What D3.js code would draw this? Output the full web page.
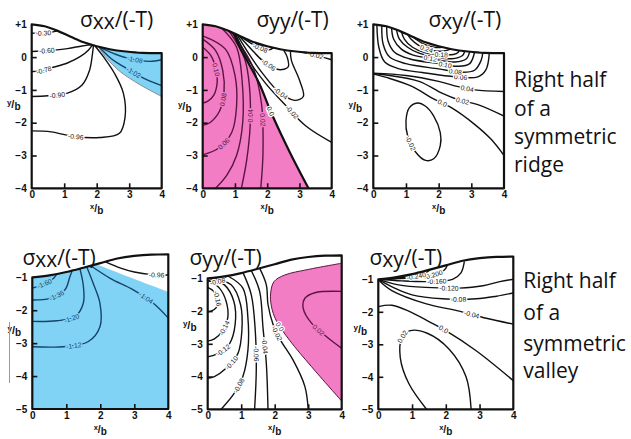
<!DOCTYPE html>
<html><head><meta charset="utf-8">
<script src="https://cdn.jsdelivr.net/npm/d3@7"></script>
<style>html,body{margin:0;padding:0;background:#fff;}svg{display:block;}</style>
</head><body>
<svg id="chart" width="631" height="439"></svg>
<script>
// ---------------- data (x/b , y/b) ----------------
const xTickVals = [0, 1, 2, 3, 4];
const ridgeYTicks = [1, 0, -1, -2, -3, -4];
const valleyYTicks = [-1, -2, -3, -4, -5];
const titles = ["σxx/(-T)", "σyy/(-T)", "σxy/(-T)", "σxx/(-T)", "σyy/(-T)", "σxy/(-T)"];
const ridgeText = ["Right half", "of a", "symmetric", "ridge"];
const valleyText = ["Right half", "of a", "symmetric", "valley"];

const ridgeTop = [[0,1],[0.4,0.94],[0.8,0.8],[1.2,0.62],[1.6,0.45],[2.0,0.33],[2.4,0.24],[2.9,0.17],[3.4,0.13],[4,0.12]];
const valleyTop = [[0,-1],[0.5,-0.94],[1,-0.84],[1.5,-0.71],[2,-0.57],[2.5,-0.43],[3,-0.35],[3.5,-0.31],[4,-0.3]];

// panel 1 : sigma_xx ridge
const p1Edge = [[2.05,0.31],[2.3,-0.03],[2.72,-0.44],[3.33,-0.84],[4,-1.2]];
const p1c030 = [[0,0.73],[0.25,0.73],[0.55,0.75],[0.8,0.8]];
const p1c060 = [[0,0.17],[0.5,0.2],[1.1,0.26],[1.55,0.34],[1.85,0.38]];
const p1c078 = [[0,-0.44],[0.3,-0.42],[0.6,-0.33],[1.1,-0.18],[1.5,0.02],[1.75,0.22],[1.87,0.37]];
const p1c090 = [[0,-1.2],[0.5,-1.18],[1.1,-1.1],[1.55,-0.85],[1.78,-0.4],[1.87,0.1],[1.9,0.36]];
const p1c096 = [[0,-2.25],[0.6,-2.28],[1.3,-2.42],[2.1,-2.45],[2.7,-2.32],[2.87,-1.85],[2.82,-1.1],[2.55,-0.5],[2.2,0.02],[1.95,0.34]];
const p1c102 = [[2.08,0.3],[2.45,-0.05],[2.72,-0.23],[3.1,-0.45],[3.44,-0.64],[4,-0.87]];
const p1c108 = [[2.1,0.3],[2.6,0.08],[2.95,-0.03],[3.3,-0.1],[3.64,-0.13],[4,-0.08]];

// panel 2 : sigma_yy ridge
const p2Zero = [[0.97,0.72],[1.15,0.3],[1.4,-0.15],[1.75,-0.8],[2.15,-1.75],[2.7,-2.9],[3.28,-4]];
const p2c010 = [[0,0.3],[0.25,0.05],[0.42,-0.4],[0.45,-0.75],[0.35,-1.15],[0.15,-1.35],[0,-1.4]];
const p2c008 = [[0,0.55],[0.4,0.2],[0.62,-0.4],[0.66,-1.1],[0.52,-1.65],[0.22,-2.0],[0,-2.08]];
const p2c006 = [[0,0.65],[0.7,0.25],[1.0,-0.55],[1.05,-1.5],[0.9,-2.3],[0.5,-2.77],[0,-2.98]];
const p2c005 = [[0.6,0.87],[1.05,0.3],[1.22,-0.7],[1.24,-2.0],[1.05,-3.0],[0.75,-3.6],[0.4,-4]];
const p2c004 = [[0.82,0.79],[1.3,-0.05],[1.45,-0.9],[1.47,-2.1],[1.37,-3.1],[1.2,-4]];
const p2c002 = [[0.9,0.755],[1.55,-0.28],[1.82,-1.4],[1.87,-2.9],[1.8,-4]];
const p2m002b = [[1.02,0.7],[1.4,-0.05],[1.95,-0.8],[2.6,-1.5],[3.2,-2.1],[4,-2.6]];
const p2m004 = [[1.07,0.68],[1.5,0.0],[1.9,-0.55],[2.35,-1.05],[2.85,-1.32],[3.12,-1.2],[3.0,-0.7],[2.75,-0.1],[2.72,0.18]];
const p2m006 = [[1.12,0.66],[1.5,0.25],[1.85,-0.1],[2.35,-0.38],[2.65,-0.3],[2.62,0.0],[2.52,0.2]];
const p2m008 = [[1.17,0.64],[1.5,0.42],[1.8,0.27],[2.05,0.22],[2.2,0.29]];
const p2m002a = [[3.0,0.17],[3.45,0.07],[4,-0.08]];

// panel 3 : sigma_xy ridge
const p3a006 = [[0.11,0.98],[0.17,0.3],[0.35,-0.15],[0.8,-0.36],[1.5,-0.47],[2.5,-0.6],[3.2,-0.6],[3.45,-0.38],[3.55,0.12]];
const p3a008 = [[0.26,0.96],[0.3,0.4],[0.5,0.0],[1.0,-0.2],[2.0,-0.36],[2.7,-0.46],[3.1,-0.4],[3.3,-0.1],[3.35,0.13]];
const p3a010 = [[0.41,0.94],[0.45,0.5],[0.65,0.15],[1.1,-0.05],[2.0,-0.2],[2.6,-0.28],[2.95,-0.2],[3.1,0.155]];
const p3a012 = [[0.56,0.89],[0.62,0.55],[0.85,0.25],[1.2,0.07],[1.8,-0.05],[2.5,-0.15],[2.85,-0.05],[2.95,0.165]];
const p3a014 = [[0.71,0.84],[0.8,0.55],[1.05,0.3],[1.4,0.12],[1.9,0.0],[2.4,-0.05],[2.72,0.04],[2.8,0.18]];
const p3a018 = [[0.86,0.78],[0.95,0.55],[1.2,0.3],[1.6,0.13],[2.1,0.07],[2.45,0.08],[2.6,0.15],[2.62,0.2]];
const p3a024 = [[1.05,0.69],[1.15,0.55],[1.4,0.35],[1.8,0.2],[2.1,0.18],[2.3,0.22],[2.35,0.25]];
const p3a030 = [[1.2,0.62],[1.5,0.42],[1.85,0.3],[2.05,0.29],[2.15,0.31]];
const p3c004 = [[0,-0.49],[1.0,-0.56],[2.0,-0.74],[2.6,-0.9],[3.1,-1.0],[4,-1.05]];
const p3c002 = [[0,-0.5],[0.5,-0.56],[1.4,-0.74],[2.1,-1.1],[2.6,-1.3],[3.2,-1.45],[4,-1.8]];
const p3c000 = [[0,-0.51],[0.4,-0.62],[1.2,-0.9],[1.8,-1.25],[2.4,-1.55],[3.1,-2.05],[3.6,-2.5],[4,-3.0]];
const p3m002 = [[1.35,-1.4],[1.6,-1.5],[1.85,-1.8],[2.05,-2.3],[2.05,-2.7],[1.85,-3.1],[1.6,-3.15],[1.3,-2.9],[1.05,-2.4],[1.0,-1.95],[1.1,-1.55]];

// panel 4 : sigma_xx valley
const p4Edge = [[1.89,-0.6],[3,-1.05],[4,-1.44]];
const p4c160 = [[0,-1.33],[0.3,-1.22],[0.6,-1.05],[0.72,-0.9]];
const p4c136 = [[0,-1.69],[0.52,-1.64],[0.96,-1.38],[1.1,-1.0],[1.17,-0.8]];
const p4c120 = [[0,-2.34],[0.72,-2.32],[1.26,-2.19],[1.5,-1.79],[1.5,-1.25],[1.4,-0.74]];
const p4c112 = [[0,-3.11],[1.0,-3.1],[1.65,-2.95],[1.99,-2.5],[1.99,-1.79],[1.79,-1.18],[1.6,-0.68]];
const p4c104 = [[1.72,-0.65],[2.29,-1.03],[2.97,-1.38],[3.56,-1.79],[4,-2.24]];
const p4c096 = [[2.15,-0.53],[2.6,-0.72],[3.0,-0.84],[3.5,-0.92],[4,-0.93]];

// panel 5 : sigma_yy valley
const p5Edge = [[4,-0.54],[3.0,-0.73],[2.3,-0.9],[1.98,-1.1],[1.88,-1.45],[1.9,-1.85],[2.05,-2.3],[2.45,-2.9],[3.1,-3.7],[4,-4.75]];
const p5p002 = [[4,-1.4],[3.2,-1.44],[2.9,-1.61],[2.85,-1.91],[3.1,-2.37],[4,-3.14]];
const p5m008a = [[0,-1.08],[0.3,-1.1],[0.55,-0.95]];
const p5m016 = [[0,-1.28],[0.18,-1.4],[0.3,-1.65],[0.25,-1.9],[0.1,-2.0],[0,-2.02]];
const p5m014 = [[0,-1.05],[0.35,-1.3],[0.55,-1.7],[0.6,-2.2],[0.45,-2.6],[0.2,-2.85],[0,-2.92]];
const p5m012 = [[0.02,-1.0],[0.5,-1.2],[0.78,-1.7],[0.82,-2.4],[0.65,-3.0],[0.3,-3.3],[0,-3.4]];
const p5m010 = [[0.12,-0.99],[0.7,-1.2],[0.98,-1.8],[1.02,-2.6],[0.9,-3.3],[0.55,-3.75],[0.2,-4.0],[0,-4.05]];
const p5m008 = [[0.6,-0.93],[1.05,-1.3],[1.2,-2.2],[1.2,-3.2],[1.05,-4.0],[0.8,-4.5],[0.4,-5]];
const p5m006 = [[1.05,-0.82],[1.3,-1.5],[1.42,-2.6],[1.45,-3.8],[1.4,-5]];
const p5m004 = [[1.3,-0.76],[1.55,-1.4],[1.65,-2.5],[1.75,-3.6],[1.8,-5]];
const p5m002 = [[1.55,-0.69],[1.75,-1.2],[1.8,-1.8],[1.95,-2.4],[2.15,-2.85],[2.55,-3.5],[2.9,-4.3],[3.0,-5]];

// panel 6 : sigma_xy valley
const p6c000 = [[0,-1.84],[0.4,-1.8],[0.9,-1.98],[1.5,-2.3],[2.0,-2.58],[2.9,-3.2],[4,-4.12]];
const p6m004 = [[0.02,-1.04],[0.4,-1.35],[1.4,-1.75],[2.4,-1.98],[3.2,-2.2],[4,-2.38]];
const p6m008 = [[0.02,-1.02],[0.5,-1.28],[1.0,-1.48],[1.9,-1.6],[2.9,-1.6],[3.5,-1.52],[4,-1.42]];
const p6m120 = [[0.02,-1.01],[0.6,-1.17],[1.4,-1.25],[2.4,-1.27],[3.1,-1.2],[3.6,-1.07],[4,-1.0]];
const p6m160 = [[0.02,-1.0],[0.7,-1.05],[1.5,-1.07],[2.2,-1.0],[2.45,-0.8],[2.55,-0.45]];
const p6m200 = [[0.02,-0.99],[0.8,-0.97],[1.5,-0.9],[1.95,-0.72],[2.05,-0.56]];
const p6m240 = [[0.02,-0.99],[0.6,-0.955],[1.3,-0.86],[1.55,-0.7]];
const p6m280 = [[0.01,-1.0],[0.3,-1.0],[0.55,-0.97],[0.7,-0.91]];
const p6m320 = [[0.01,-1.0],[0.2,-1.01],[0.4,-0.98],[0.5,-0.94]];
const p6p002 = [[1.43,-5],[0.9,-4.2],[0.65,-3.4],[0.7,-2.8],[0.95,-2.58],[1.45,-2.66],[2.1,-3.15],[2.6,-4.0],[2.75,-5]];

// ---------------- drawing ----------------
const svg = d3.select("#chart");
const defs = svg.append("defs");
const FILL = {blue: "#80d3f5", pink: "#f27dc4"};
const STROKE = {black: "#111", blue: "#16446a", pink: "#5a1541", gray: "#8c8c8c"};
const LABBG = {black: "#fff", gray: "#fff", blue: FILL.blue, pink: FILL.pink};

const panels = [
  {x0: 31.7, x1: 161.7, yMax: 1, yMin: -4, yT: 24.3, yB: 188.3, top: ridgeTop, yTicks: ridgeYTicks, yLab: -1.5,
   fills: [{edge: p1Edge, outside: [[4.3,-1.2],[4.3,1.5],[2.05,1.5]], color: "blue"}],
   contours: [
     {pts: p1Edge, kind: "gray", sw: 1},
     {pts: p1c030, kind: "black", label: "-0.30", at: 0.45},
     {pts: p1c060, kind: "black", label: "-0.60", at: 0.25},
     {pts: p1c078, kind: "black", label: "-0.78", at: 0.18},
     {pts: p1c090, kind: "black", label: "-0.90", at: 0.27},
     {pts: p1c096, kind: "black", label: "-0.96", at: 0.24},
     {pts: p1c102, kind: "blue", label: "-1.02", at: 0.58},
     {pts: p1c108, kind: "blue", label: "-1.08", at: 0.58}]},
  {x0: 202.7, x1: 331.7, yMax: 1, yMin: -4, yT: 24.3, yB: 188.3, top: ridgeTop, yTicks: ridgeYTicks, yLab: -1.55,
   fills: [{edge: p2Zero, outside: [[3.4,-4.3],[-0.3,-4.3],[-0.3,1.3],[0.97,1.3]], color: "pink"}],
   contours: [
     {pts: p2c010, kind: "pink", label: "0.10", at: 0.4},
     {pts: p2c008, kind: "pink", label: "0.08", at: 0.66},
     {pts: p2c006, kind: "pink", label: "0.06", at: 0.84},
     {pts: p2c005, kind: "pink"},
     {pts: p2c004, kind: "pink", label: "0.04", at: 0.55},
     {pts: p2c002, kind: "pink", label: "0.02", at: 0.58},
     {pts: p2m002b, kind: "black", label: "-0.02", at: 0.66},
     {pts: p2m004, kind: "black", label: "-0.04", at: 0.5},
     {pts: p2m006, kind: "black", label: "-0.06", at: 0.52},
     {pts: p2m008, kind: "black", label: "-0.08", at: 0.62},
     {pts: p2m002a, kind: "black", label: "-0.02", at: 0.5},
     {pts: p2Zero, kind: "black", sw: 2.2, label: "0.0", at: 0.5}]},
  {x0: 373.3, x1: 504, yMax: 1, yMin: -4, yT: 24.3, yB: 188.3, top: ridgeTop, yTicks: ridgeYTicks, yLab: -1.55,
   fills: [],
   contours: [
     {pts: p3a006, kind: "black", label: "0.06", at: 0.72},
     {pts: p3a008, kind: "black", label: "0.08", at: 0.72},
     {pts: p3a010, kind: "black", label: "0.10", at: 0.68},
     {pts: p3a012, kind: "black", label: "0.12", at: 0.55},
     {pts: p3a014, kind: "black"},
     {pts: p3a018, kind: "black", label: "0.18", at: 0.72},
     {pts: p3a024, kind: "black", label: "0.24", at: 0.5},
     {pts: p3a030, kind: "black"},
     {pts: p3c004, kind: "black", label: "0.04", at: 0.72},
     {pts: p3c002, kind: "black", label: "0.02", at: 0.68},
     {pts: p3c000, kind: "black", label: "0.0", at: 0.48},
     {pts: p3m002, kind: "black", closed: true, label: "-0.02", at: 0.62}]},
  {x0: 32.3, x1: 168.3, yMax: -1, yMin: -5, yT: 277.3, yB: 409, top: valleyTop, yTicks: valleyYTicks, yLab: -2.65,
   fills: [{edge: p4Edge, outside: [[4.3,-1.44],[4.3,-5.3],[-0.3,-5.3],[-0.3,0],[1.89,0]], color: "blue"}],
   contours: [
     {pts: p4c160, kind: "blue", label: "-1.60", at: 0.45},
     {pts: p4c136, kind: "blue", label: "-1.36", at: 0.45},
     {pts: p4c120, kind: "blue", label: "-1.20", at: 0.42},
     {pts: p4c112, kind: "blue", label: "-1.12", at: 0.3},
     {pts: p4c104, kind: "blue", label: "-1.04", at: 0.68},
     {pts: p4c096, kind: "black", label: "-0.96", at: 0.82}]},
  {x0: 207.7, x1: 341.7, yMax: -1, yMin: -5, yT: 278.3, yB: 409.3, top: valleyTop, yTicks: valleyYTicks, yLab: -2.5,
   fills: [{edge: p5Edge, outside: [[4.3,-4.75],[4.3,-0.54]], color: "pink"}],
   contours: [
     {pts: p5Edge, kind: "pink", sw: 1, label: "0.0", at: 0.55, bg: "white"},
     {pts: p5p002, kind: "pink", label: "0.02", at: 0.72},
     {pts: p5m008a, kind: "black", label: "-0.08", at: 0.5},
     {pts: p5m016, kind: "black", label: "-0.16", at: 0.45},
     {pts: p5m014, kind: "black", label: "-0.14", at: 0.72},
     {pts: p5m012, kind: "black", label: "-0.12", at: 0.84},
     {pts: p5m010, kind: "black", label: "-0.10", at: 0.78},
     {pts: p5m008, kind: "black", label: "-0.08", at: 0.8},
     {pts: p5m006, kind: "black", label: "-0.06", at: 0.6},
     {pts: p5m004, kind: "black", label: "-0.04", at: 0.55},
     {pts: p5m002, kind: "black", label: "-0.02", at: 0.45}]},
  {x0: 378.3, x1: 513.3, yMax: -1, yMin: -5, yT: 279.3, yB: 409.3, top: valleyTop, yTicks: valleyYTicks, yLab: -2.6,
   fills: [],
   contours: [
     {pts: p6c000, kind: "black", label: "0.0", at: 0.45},
     {pts: p6m004, kind: "black", label: "-0.04", at: 0.7},
     {pts: p6m008, kind: "black", label: "-0.08", at: 0.6},
     {pts: p6m120, kind: "black", label: "-0.120", at: 0.52},
     {pts: p6m160, kind: "black", label: "-0.160", at: 0.6},
     {pts: p6m200, kind: "black", label: "-0.200", at: 0.75},
     {pts: p6m240, kind: "black", label: "-0.240", at: 0.7},
     {pts: p6m280, kind: "black"},
     {pts: p6m320, kind: "black"},
     {pts: p6p002, kind: "black", label: "0.02", at: 0.4}]}
];

const titlePos = [[80, 27], [256.5, 27], [428.5, 27], [22.5, 265], [189.5, 265], [369.5, 265]];

panels.forEach((p, i) => {
  const x = d3.scaleLinear().domain([0, 4]).range([p.x0, p.x1]);
  const y = d3.scaleLinear().domain([p.yMax, p.yMin]).range([p.yT, p.yB]);
  const smooth = d3.line().x(d => x(d[0])).y(d => y(d[1])).curve(d3.curveCatmullRom.alpha(0.5));
  const smoothClosed = d3.line().x(d => x(d[0])).y(d => y(d[1])).curve(d3.curveCatmullRomClosed.alpha(0.5));
  const topGen = d3.line().x(d => x(d[0])).y(d => y(d[1])).curve(d3.curveMonotoneX);
  const frameD = topGen(p.top) + `L${x(4)},${y(p.yMin)}L${x(0)},${y(p.yMin)}Z`;
  const cid = "clip" + i;
  defs.append("clipPath").attr("id", cid).append("path").attr("d", frameD);
  const g = svg.append("g").attr("clip-path", `url(#${cid})`);

  p.fills.forEach(f => {
    const d = smooth(f.edge) + f.outside.map(q => `L${x(q[0])},${y(q[1])}`).join("") + "Z";
    g.append("path").attr("d", d).attr("fill", FILL[f.color]);
  });
  const labs = [];
  p.contours.forEach(c => {
    const path = g.append("path")
      .attr("d", c.closed ? smoothClosed(c.pts) : smooth(c.pts))
      .attr("fill", "none").attr("stroke", STROKE[c.kind])
      .attr("stroke-width", c.sw || 1.4).attr("stroke-linejoin", "round");
    if (c.label) labs.push({node: path.node(), c});
  });
  labs.forEach(({node, c}) => {
    const L = node.getTotalLength();
    const s = c.at * L;
    const pt = node.getPointAtLength(s);
    const a = node.getPointAtLength(Math.max(0, s - 2));
    const b = node.getPointAtLength(Math.min(L, s + 2));
    let ang = Math.atan2(b.y - a.y, b.x - a.x) * 180 / Math.PI;
    if (ang > 90) ang -= 180;
    if (ang < -90) ang += 180;
    const bg = c.bg === "white" ? "#fff" : LABBG[c.kind];
    g.append("text")
      .attr("transform", `translate(${pt.x},${pt.y}) rotate(${ang})`)
      .attr("text-anchor", "middle").attr("dy", "0.35em")
      .attr("font-family", "Liberation Sans, Arial, sans-serif").attr("font-size", 6.8)
      .attr("fill", c.kind === "gray" ? "#111" : STROKE[c.kind])
      .attr("stroke", bg).attr("stroke-width", 2.6).attr("paint-order", "stroke")
      .text(c.label);
  });

  // frame
  svg.append("path").attr("d", frameD).attr("fill", "none")
    .attr("stroke", "#111").attr("stroke-width", 2.2).attr("stroke-linejoin", "round");

  // axes
  const fmt = v => v > 0 ? "+" + v : v < 0 ? "\u2212" + (-v) : "0";
  const styleAxis = s => {
    s.select(".domain").remove();
    s.attr("font-family", "Liberation Sans, Arial, sans-serif").attr("font-size", 10).attr("font-weight", "bold");
    s.selectAll(".tick line").attr("stroke", "#111").attr("stroke-width", 1.6);
    s.selectAll("text").attr("fill", "#111");
  };
  svg.append("g").attr("transform", `translate(${p.x0},0)`)
    .call(d3.axisLeft(y).tickValues(p.yTicks).tickSize(-5).tickPadding(5).tickFormat(fmt))
    .call(styleAxis)
    .call(s => s.selectAll(".tick").filter(d => d === p.yMax || d === p.yMin).select("line").remove());
  svg.append("g").attr("transform", `translate(0,${p.yB})`)
    .call(d3.axisBottom(x).tickValues(xTickVals).tickSize(-5).tickPadding(3).tickFormat(d3.format("d")))
    .call(styleAxis)
    .call(s => s.selectAll(".tick").filter(d => d === 0 || d === 4).select("line").remove());

  // axis titles
  const xl = svg.append("text").attr("x", x(2)).attr("y", p.yB + 24).attr("text-anchor", "middle")
    .attr("font-family", "Liberation Sans, Arial, sans-serif").attr("font-weight", "bold").attr("fill", "#111");
  xl.append("tspan").attr("font-size", 7.5).attr("dy", -3).text("x");
  xl.append("tspan").attr("font-size", 10.5).attr("dy", 3).text("/");
  xl.append("tspan").attr("font-size", 10).attr("dy", 1.5).text("b");
  const yl = svg.append("text").attr("x", p.x0 - 18).attr("y", y(p.yLab) + 2).attr("text-anchor", "middle")
    .attr("font-family", "Liberation Sans, Arial, sans-serif").attr("font-weight", "bold").attr("fill", "#111");
  yl.append("tspan").attr("font-size", 8).attr("dy", -3).text("y");
  yl.append("tspan").attr("font-size", 11).attr("dy", 3).text("/");
  yl.append("tspan").attr("font-size", 10).attr("dy", 2).text("b");

  // title
  const t = svg.append("text").attr("x", titlePos[i][0]).attr("y", titlePos[i][1])
    .attr("font-family", "Open Sans, sans-serif").attr("font-size", 21).attr("fill", "#111");
  const tt = titles[i];
  t.append("tspan").text(tt[0]);
  t.append("tspan").attr("dy", 2).text(tt.slice(1, 3));
  t.append("tspan").attr("dy", -2).text(tt.slice(3));
});

// side texts
const sideFont = "Open Sans, sans-serif";
const ridgeBase = [87.3, 115.5, 143.5, 171.7];
const valleyBase = [288, 319.5, 350.5, 378];
ridgeText.forEach((s, k) => svg.append("text").attr("x", 514).attr("y", ridgeBase[k])
  .attr("font-family", sideFont).attr("font-size", 21).attr("fill", "#111").text(s));
valleyText.forEach((s, k) => svg.append("text").attr("x", 523.3).attr("y", valleyBase[k])
  .attr("font-family", sideFont).attr("font-size", 21).attr("fill", "#111").text(s));

// thin stray line at the far left of the lower row
svg.append("line").attr("x1", 9.5).attr("x2", 9.5).attr("y1", 322).attr("y2", 383)
  .attr("stroke", "#9a9a9a").attr("stroke-width", 1);
</script>
</body></html>
